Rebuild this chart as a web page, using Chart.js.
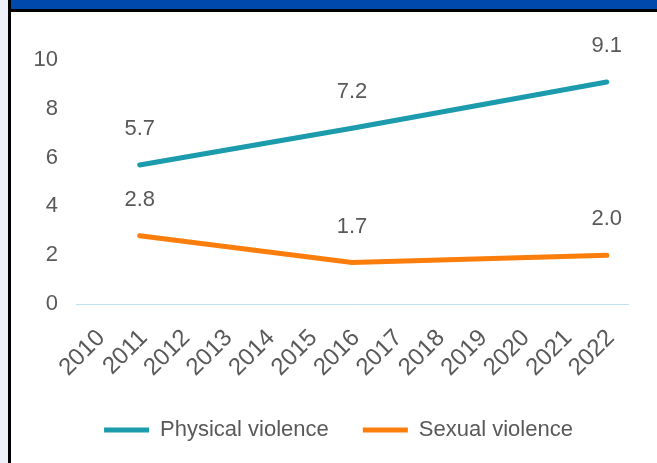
<!DOCTYPE html>
<html>
<head>
<meta charset="utf-8">
<script src="https://cdn.jsdelivr.net/npm/chart.js@4/dist/chart.umd.min.js"></script>
<style>
  body { margin: 0; background: #fff; width: 657px; height: 463px; overflow: hidden; position: relative; }
  #strip { position: absolute; left: 0; top: 0; width: 8px; height: 463px; background: #eef1fa; }
  #vline { position: absolute; left: 8px; top: 0; width: 3px; height: 463px; background: #000; }
  #topbar { position: absolute; left: 11px; top: 0; width: 646px; height: 9px; background: #0049ac; }
  #hline { position: absolute; left: 11px; top: 9px; width: 646px; height: 3px; background: #000; }
  #box { position: absolute; left: 11px; top: 12px; width: 646px; height: 451px; }
</style>
</head>
<body>
<div id="strip"></div>
<div id="vline"></div>
<div id="topbar"></div>
<div id="hline"></div>
<div id="box"><canvas id="myChart"></canvas></div>
<script>
const years = ["2010", "2011", "2012", "2013", "2014", "2015", "2016", "2017", "2018", "2019", "2020", "2021", "2022"];
const physical = [null, 5.7, null, null, null, null, 7.2, null, null, null, null, null, 9.1];
const sexual = [null, 2.8, null, null, null, null, 1.7, null, null, null, null, null, 2.0];
const yTicks = [0, 2, 4, 6, 8, 10];

const textColor = "#595959";
const font = "'Liberation Sans', Arial, sans-serif";

// draws the value above each point
const valueLabels = {
  id: "valueLabels",
  afterDatasetsDraw(chart) {
    const ctx = chart.ctx;
    ctx.save();
    ctx.font = "22px " + font;
    ctx.fillStyle = textColor;
    ctx.textAlign = "center";
    ctx.textBaseline = "middle";
    chart.data.datasets.forEach((ds, i) => {
      const meta = chart.getDatasetMeta(i);
      meta.data.forEach((pt, j) => {
        if (ds.data[j] == null) return;
        ctx.fillText(ds.data[j].toFixed(1), pt.x, pt.y - 36);
      });
    });
    ctx.restore();
  },
};

// legend sits a bit right of the canvas centre in the original
const legendShift = {
  id: "legendShift",
  afterLayout(chart) {
    chart.legend.left += 14;
    chart.legend.right += 14;
  },
};

const ctx = document.getElementById("myChart");
const myChart = new Chart(ctx, {
  type: "line",
  data: {
    labels: years,
    datasets: [
      {
        label: "Physical violence",
        data: physical,
        borderColor: "#1b9bab",
        backgroundColor: "#1b9bab",
        borderWidth: 5,
        borderCapStyle: "round",
        pointRadius: 0,
        spanGaps: true,
        tension: 0,
      },
      {
        label: "Sexual violence",
        data: sexual,
        borderColor: "#fb7d0c",
        backgroundColor: "#fb7d0c",
        borderWidth: 5,
        borderCapStyle: "round",
        pointRadius: 0,
        spanGaps: true,
        tension: 0,
      },
    ],
  },
  options: {
    responsive: true,
    maintainAspectRatio: false,
    animation: false,
    layout: { padding: { left: 10, right: 29, top: 48, bottom: 12 } },
    plugins: {
      legend: {
        position: "bottom",
        labels: {
          usePointStyle: true,
          pointStyle: "line",
          pointStyleWidth: 45,
          boxHeight: 5,
          padding: 34,
          color: textColor,
          font: { size: 22, family: font },
        },
      },
      tooltip: { enabled: false },
    },
    scales: {
      x: {
        offset: true,
        grid: { display: false, drawTicks: false },
        border: { display: true, color: "#bde3f3", width: 1 },
        ticks: {
          autoSkip: false,
          minRotation: 45,
          maxRotation: 45,
          color: textColor,
          padding: 20,
          labelOffset: 4,
          font: { size: 24, family: font },
        },
        afterFit(scale) { scale.height = 81; },
      },
      y: {
        min: 0,
        max: 10,
        afterBuildTicks(scale) { scale.ticks = yTicks.map((v) => ({ value: v })); },
        grid: { display: false, drawTicks: false },
        border: { display: false },
        ticks: {
          color: textColor,
          padding: 18,
          font: { size: 22, family: font },
        },
        afterFit(scale) { scale.width = 55; },
      },
    },
  },
  plugins: [valueLabels, legendShift],
});
</script>
</body>
</html>
